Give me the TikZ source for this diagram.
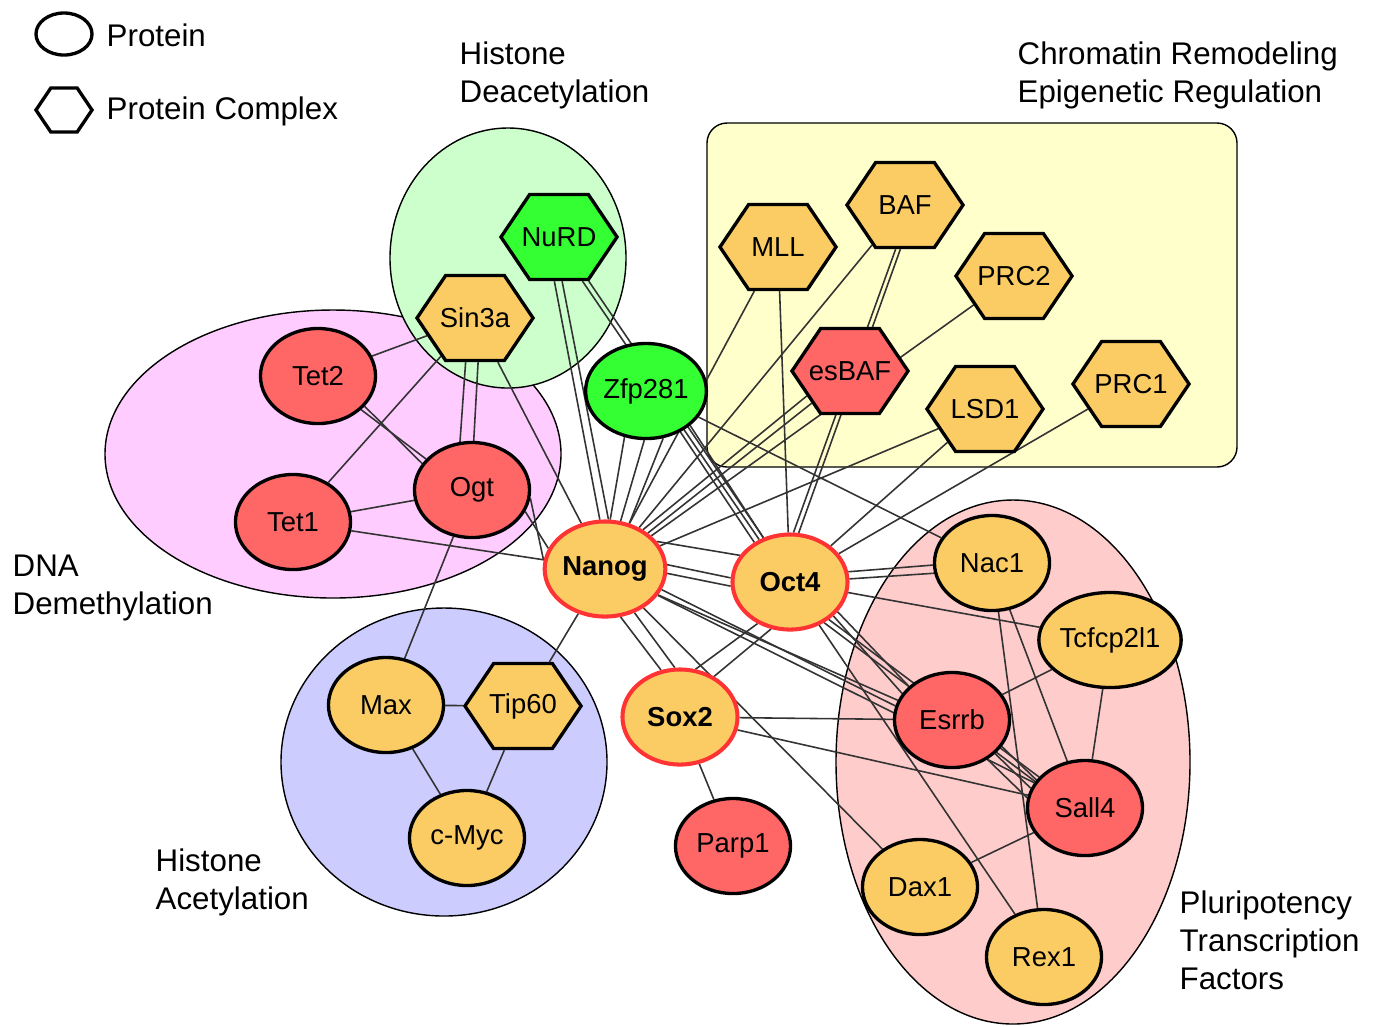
\documentclass[tikz,border=0pt]{standalone}
\usepackage{fontspec}
\setmainfont{Liberation Sans}
\usepackage{tikz}
\usetikzlibrary{shapes.geometric}
\usetikzlibrary{shapes.symbols}

\definecolor{protfill}{RGB}{252,204,100}
\definecolor{redfill}{RGB}{255,102,102}
\definecolor{greenfill}{RGB}{51,255,51}
\definecolor{coreline}{RGB}{255,51,51}
\definecolor{hdeac}{RGB}{204,255,204}
\definecolor{dnadem}{RGB}{255,204,255}
\definecolor{hacet}{RGB}{204,204,255}
\definecolor{chrom}{RGB}{255,255,204}
\definecolor{pluri}{RGB}{255,204,204}

\pgfdeclarelayer{regions}
\pgfdeclarelayer{links}
\pgfsetlayers{regions,links,main}

\tikzset{
    prot/.style={ellipse, draw, line width=0.95pt, fill=protfill, minimum width=1.15cm, minimum height=0.95cm, inner sep=0pt, font=\fontsize{7.8}{9}\selectfont},
    hex/.style={shape=signal, signal to=east and west, signal pointer angle=112, draw, line width=0.95pt, fill=protfill, minimum width=1.16cm, minimum height=0.85cm, inner ysep=0pt, inner xsep=-0.15cm, font=\fontsize{7.8}{9}\selectfont},
    core/.style={prot, draw=coreline, line width=1.15pt, font=\fontsize{7.8}{9}\selectfont\bfseries},
    region/.style={draw=black, line width=0.4pt},
    link/.style={draw=black!80, line width=0.45pt},
    grouplabel/.style={align=left, anchor=west, inner sep=0pt, font=\fontsize{8.9}{10.8}\selectfont}
}

\begin{document}
\begin{tikzpicture}[x=0.01cm, y=-0.01cm]
    \useasboundingbox (0,0) rectangle (1376,1026);

    % groups
    \begin{pgfonlayer}{regions}
        \draw[region, fill=dnadem] (333,454) ellipse [x radius=228, y radius=144];
        \draw[region, fill=hdeac] (508,258) ellipse [x radius=118, y radius=130];
        \draw[region, fill=hacet] (444,762) ellipse [x radius=163, y radius=154];
        \draw[region, fill=chrom, rounded corners=0.2cm] (707,123) rectangle (1237,467);
        \draw[region, fill=pluri] (1013,762) ellipse [x radius=177, y radius=262];
    \end{pgfonlayer}

    % legend
    \node[ellipse, draw, line width=0.95pt, minimum width=0.56cm, minimum height=0.42cm] (legprot) at (64,34) {};
    \node[shape=signal, signal to=east and west, signal pointer angle=112, draw, line width=0.95pt, minimum width=0.56cm, minimum height=0.44cm, inner sep=0pt] (legcplx) at (64,110) {};
    \node[grouplabel] (legprottxt) at (106,35) {Protein};
    \node[grouplabel] (legcplxtxt) at (106,111) {Protein Complex};

    % group labels
    \node[grouplabel] (lbldeac) at (459,75) {Histone\\Deacetylation};
    \node[grouplabel] (lblchrom) at (1017,75) {Chromatin Remodeling\\Epigenetic Regulation};
    \node[grouplabel] (lbldna) at (12,588) {DNA\\Demethylation};
    \node[grouplabel] (lblacet) at (155,882) {Histone\\Acetylation};
    \node[grouplabel] (lblpluri) at (1179,940) {Pluripotency\\Transcription\\Factors};

    % proteins and complexes
    \node[hex, fill=greenfill] (nurd) at (559,237) {NuRD};
    \node[hex] (sin3a) at (475,318) {Sin3a};
    \node[prot, fill=greenfill] (zfp) at (646,391) {Zfp281};
    \node[prot, fill=redfill] (tet2) at (318,376) {Tet2};
    \node[prot, fill=redfill] (tet1) at (293,522) {Tet1};
    \node[prot, fill=redfill] (ogt) at (472,490) {Ogt};
    \node[core] (nanog) at (605,569) {Nanog};
    \node[core] (oct4) at (790,582) {Oct4};
    \node[core] (sox2) at (680,717) {Sox2};
    \node[prot, fill=redfill] (parp1) at (733,846) {Parp1};
    \node[prot] (max) at (386,705) {Max};
    \node[hex] (tip60) at (523,706) {Tip60};
    \node[prot] (cmyc) at (467,838) {c-Myc};
    \node[hex] (mll) at (778,247) {MLL};
    \node[hex] (baf) at (905,205) {BAF};
    \node[hex] (prc2) at (1014,276) {PRC2};
    \node[hex, fill=redfill] (esbaf) at (850,371) {esBAF};
    \node[hex] (lsd1) at (985,409) {LSD1};
    \node[hex] (prc1) at (1131,384) {PRC1};
    \node[prot] (nac1) at (992,563) {Nac1};
    \node[prot] (tcf) at (1110,640) {Tcfcp2l1};
    \node[prot, fill=redfill] (esrrb) at (952,720) {Esrrb};
    \node[prot, fill=redfill] (sall4) at (1085,808) {Sall4};
    \node[prot] (dax1) at (920,887) {Dax1};
    \node[prot] (rex1) at (1044,957) {Rex1};

    % interactions
    \begin{pgfonlayer}{links}
        \foreach \a/\b in {sin3a/tet2, sin3a/tet1, sin3a/nanog, tet1/ogt, tet1/nanog, ogt/max,
                nanog/tip60, max/tip60, max/cmyc, tip60/cmyc, zfp/nac1, mll/nanog, mll/oct4,
                baf/nanog, prc2/nanog, lsd1/nanog, lsd1/oct4, prc1/oct4, nanog/dax1, nanog/sall4,
                oct4/tcf, oct4/rex1, sox2/parp1, sox2/esrrb, sox2/sall4, tcf/esrrb, tcf/sall4,
                nac1/sall4, nac1/rex1, dax1/sall4} {
            \draw[link] (\a) -- (\b);
        }
        % repeated interactions
        \foreach \a/\b in {sin3a.-102/ogt.104, sin3a.-86/ogt.88, tet2.-33/ogt.152, tet2.-38/ogt.146,
                ogt.-8/nanog.172, ogt.-22/nanog.160, nurd.-96/nanog.96, nurd.-86/nanog.86,
                nurd.-62/oct4.126, nurd.-56/oct4.121, zfp.-115/nanog.84, zfp.-92/nanog.72,
                zfp.-70/nanog.62, zfp.-50/oct4.132, zfp.-38/oct4.121, baf.-102/oct4.86,
                baf.-96/oct4.80, esbaf.-150/nanog.46, esbaf.-140/nanog.40, nanog.4/oct4.176,
                nanog.-4/oct4.184, nanog.28/oct4.152, oct4.10/nac1.182, oct4.3/nac1.190,
                oct4.-38/esrrb.152, oct4.-32/esrrb.142, oct4.-50/sall4.152, oct4.-44/sall4.146,
                nanog.-20/esrrb.166, nanog.-26/esrrb.160, nanog.-72/sox2.112, nanog.-56/sox2.96,
                oct4.-128/sox2.72, oct4.-112/sox2.50, esrrb.-28/sall4.150, esrrb.-38/sall4.160,
                esrrb.-48/sall4.170} {
            \draw[link] (\a) -- (\b);
        }
    \end{pgfonlayer}
\end{tikzpicture}
\end{document}
